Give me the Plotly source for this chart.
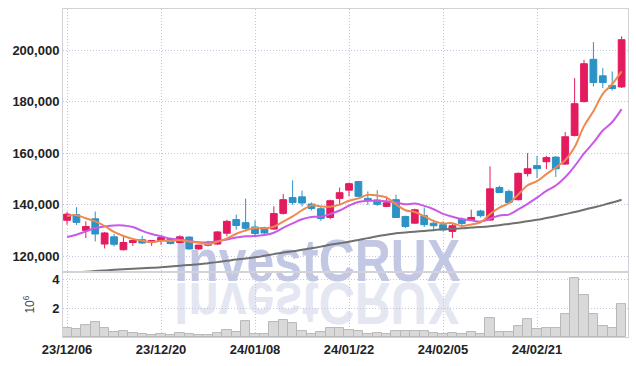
import plotly.graph_objects as go
from plotly.subplots import make_subplots

dates = ["23/12/06","23/12/07","23/12/08","23/12/11","23/12/12","23/12/13","23/12/14","23/12/15","23/12/18","23/12/19",
         "23/12/20","23/12/21","23/12/22","23/12/26","23/12/27","23/12/28","24/01/02","24/01/03","24/01/04","24/01/05",
         "24/01/08","24/01/09","24/01/10","24/01/11","24/01/12","24/01/15","24/01/16","24/01/17","24/01/18","24/01/19",
         "24/01/22","24/01/23","24/01/24","24/01/25","24/01/26","24/01/29","24/01/30","24/01/31","24/02/01","24/02/02",
         "24/02/05","24/02/06","24/02/07","24/02/08","24/02/13","24/02/14","24/02/15","24/02/16","24/02/19","24/02/20",
         "24/02/21","24/02/22","24/02/23","24/02/26","24/02/27","24/02/28","24/02/29","24/03/04","24/03/05","24/03/06"]

open_ = [134000,136200,130100,134600,124800,127600,122600,125400,126500,125400,
         126100,126900,125400,127500,122900,125400,124800,129000,134300,133100,
         131400,131200,130600,136700,142800,143100,140300,138500,135100,142500,
         145700,149000,142500,141900,139400,142000,135500,132900,135800,132900,
         132300,129700,134500,134200,137600,134100,146700,145200,142000,152100,
         155200,156700,158500,155800,166900,180000,196400,190000,186300,185700]
high = [137300,139100,133600,137400,129500,128700,127800,126700,128000,126300,
        127800,127300,128200,127800,124500,126100,129800,134200,136200,142400,
        134000,131500,139400,144200,149500,145500,140900,139100,142000,146700,
        148700,149300,145200,145700,143300,143900,135800,138500,139000,134200,
        133600,132900,135100,138100,138100,154900,147400,145900,152600,160100,
        159000,159000,158800,168200,189100,196200,203100,193000,191700,205300]
low = [132300,132200,127100,125800,123100,123900,122300,124100,124900,124100,
       124500,124700,125100,122600,122600,123800,124500,127800,130400,129700,
       128000,128800,130400,136200,140000,139400,137800,133800,134400,140000,
       143300,142900,140000,139600,139100,134900,131000,132700,131400,130300,
       129700,127100,131900,134000,135100,133800,144600,140700,141700,151000,
       150400,153900,150800,155500,166500,179700,185900,185300,184300,185300]
close = [136400,133200,131600,128700,129100,124700,125400,126200,125200,126200,
         127300,125000,127600,122900,124400,124300,129500,133600,132000,130900,
         128900,129100,136600,142000,140900,140700,138600,134700,141600,144700,
         148200,143300,141600,140200,140800,135100,131600,138100,132300,131900,
         130300,131900,132800,135100,135800,146200,144800,140900,152200,154000,
         154000,158300,154000,166400,179200,194700,187400,187400,185100,204000]

ma5 = [135700,136000,134800,133600,131800,129500,127900,126800,126100,125500,
       126100,126000,126300,125800,125400,124800,125700,126900,128800,130100,
       131000,130900,131500,133500,135500,137900,139800,139400,139300,140100,
       141600,142500,143900,143600,142800,140200,137900,137200,135600,133800,
       132800,132900,131800,132400,133200,136400,138900,140600,144000,147600,
       149200,151900,154500,157300,162400,170500,176300,183000,186800,191700]
ma10 = [127500,128400,129700,131000,131600,132000,132000,131400,129900,128700,
        127800,126900,126500,126000,125500,125500,125900,126600,127300,127800,
        127900,128300,129200,131100,132800,134400,135300,135400,136400,137800,
        139700,141100,141600,141500,141400,140900,140200,140500,139600,138300,
        136500,135400,134500,134000,133500,134600,135900,136200,138200,140400,
        142800,145400,147500,150700,155000,159900,164100,168800,172100,177100]
ma_long = [113600,113800,114050,114350,114600,114800,115000,115200,115400,115600,
           115800,116100,116400,116700,117000,117400,117800,118300,118800,119200,
           119700,120300,120900,121500,122000,122600,123200,123800,124500,125100,
           125700,126400,127100,127800,128400,129000,129300,129600,129900,130200,
           130500,130700,130900,131200,131400,131700,132100,132600,133100,133600,
           134200,134900,135600,136400,137200,138100,139000,139900,140900,142000]

volume = [620000,550000,830000,1030000,620000,370000,430000,300000,210000,140000,
          210000,140000,280000,210000,140000,140000,280000,480000,370000,1100000,
          230000,230000,1030000,1170000,970000,430000,230000,370000,620000,620000,
          480000,430000,230000,300000,230000,430000,390000,430000,430000,300000,
          230000,300000,230000,370000,230000,1310000,370000,370000,760000,1240000,
          550000,620000,620000,1590000,4070000,2920000,1590000,760000,620000,2300000]

price_ticks = [120000, 140000, 160000, 180000, 200000]
vol_ticks = [2, 4]
date_ticks = dates[::10]

UP = "#e31c5f"
DOWN = "#2b93c6"
GRID = "#c3c6de"
FRAME = "#d2d2d8"
TICKFONT = dict(family="Liberation Sans, Arial, sans-serif", size=13, color="#222222", weight="bold")

fig = make_subplots(rows=2, cols=1, shared_xaxes=True, vertical_spacing=0)

fig.add_trace(go.Candlestick(
    x=dates, open=open_, high=high, low=low, close=close,
    increasing=dict(line=dict(color=UP, width=1), fillcolor=UP),
    decreasing=dict(line=dict(color=DOWN, width=1), fillcolor=DOWN),
    whiskerwidth=0, hoverinfo="skip"), row=1, col=1)
fig.add_trace(go.Scatter(x=dates, y=ma_long, mode="lines",
                         line=dict(color="#707070", width=2, shape="spline"), hoverinfo="skip"), row=1, col=1)
fig.add_trace(go.Scatter(x=dates, y=ma10, mode="lines",
                         line=dict(color="#c95ae8", width=2, shape="spline"), hoverinfo="skip"), row=1, col=1)
fig.add_trace(go.Scatter(x=dates, y=ma5, mode="lines",
                         line=dict(color="#ee8a4e", width=2, shape="spline"), hoverinfo="skip"), row=1, col=1)
fig.add_trace(go.Bar(x=dates, y=[v / 1e6 for v in volume],
                     marker=dict(color="#d9d9d9", line=dict(color="#b8b8b8", width=1)),
                     hoverinfo="skip"), row=2, col=1)

xr = [-0.43, 59.68]
common_x = dict(type="category", range=xr, tickvals=date_ticks, showgrid=True, gridcolor=GRID,
                griddash="1px,2px", gridwidth=1, showline=True, linecolor=FRAME, linewidth=1, mirror=True,
                ticks="", zeroline=False)
fig.update_layout(
    width=636, height=366,
    margin=dict(l=63, r=8, t=9, b=29),
    paper_bgcolor="white", plot_bgcolor="rgba(0,0,0,0)",
    showlegend=False, hovermode=False, bargap=0, boxgap=0.28, boxgroupgap=0,
    xaxis=dict(common_x, showticklabels=False, rangeslider=dict(visible=False)),
    xaxis2=dict(common_x, showticklabels=True, tickfont=TICKFONT, ticktext=date_ticks),
    yaxis=dict(domain=[0.198, 1], range=[113950, 215900], tickvals=price_ticks, tickformat=",d",
               showgrid=True, gridcolor=GRID, griddash="1px,2px", showline=True, linecolor=FRAME,
               mirror=True, zeroline=False, tickfont=TICKFONT, ticks=""),
    yaxis2=dict(domain=[0, 0.198], range=[0, 4.48], tickvals=vol_ticks,
                showgrid=True, gridcolor=GRID, griddash="1px,2px", showline=True, linecolor=FRAME,
                mirror=True, zeroline=False, tickfont=TICKFONT, ticks="",
                title=dict(text="10<sup>6</sup>", standoff=14,
                           font=dict(family="Liberation Sans, Arial, sans-serif", size=12, color="#444444"))),
)

WM_FONT = "Liberation Sans, Arial, sans-serif"
for col in ["#c2c8e4", "#e4e6f2"]:
    fig.add_shape(type="rect", xref="paper", yref="paper", x0=0.15, x1=0.75, y0=0.171, y1=0.331,
                  line=dict(width=0), fillcolor="rgba(0,0,0,0)", layer="below",
                  label=dict(text="InvestCRUX", textposition="middle center",
                             font=dict(family=WM_FONT, size=59, color=col, weight="bold")))

post = """
document.body.style.margin='0';
var gd=document.getElementById('{plot_id}');
var ts=[];
gd.querySelectorAll('text').forEach(function(t){ if(t.textContent==='InvestCRUX'){ ts.push(t);} });
ts.forEach(function(t){ t.setAttribute('textLength','286'); t.setAttribute('lengthAdjust','spacingAndGlyphs'); });
if(ts.length>=2){
  var t=ts[ts.length-1];
  var y0=parseFloat(ts[0].getAttribute('y'));
  var tr=t.getAttribute('transform')||'';
  t.setAttribute('transform', tr+' translate(0,'+(2*y0+2)+') scale(1,-1)');
}
"""
fig.write_html("out.html", config={"displayModeBar": False}, post_script=post)
